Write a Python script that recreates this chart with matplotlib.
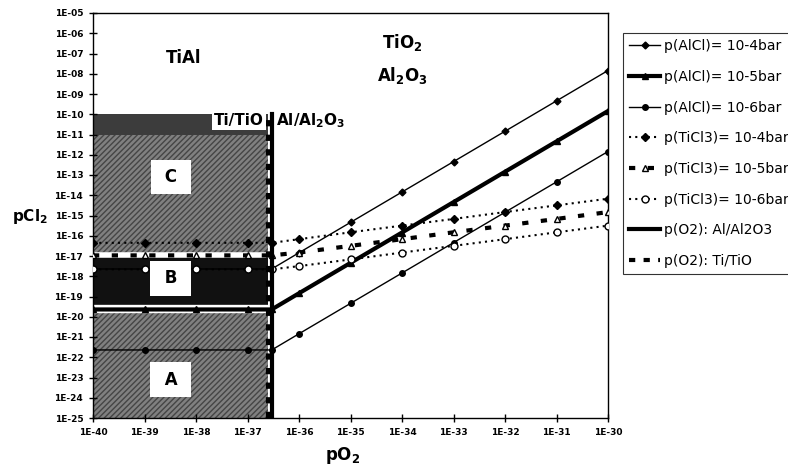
import numpy as np
import matplotlib
matplotlib.use('Agg')
import matplotlib.pyplot as plt
from matplotlib.ticker import FixedLocator, FuncFormatter, NullLocator

# pO2 grid (bar); the 5th point is the Al/Al2O3 equilibrium pO2
po2 = [1e-40, 1e-39, 1e-38, 1e-37, 2.95e-37,
       1e-36, 1e-35, 1e-34, 1e-33, 1e-32, 1e-31, 1e-30]
po2_al_al2o3 = 2.95e-37
po2_ti_tio = 2.5e-37

# log10(pCl2)
alcl_4 = [-17.64, -17.64, -17.64, -17.64, -17.64, -16.84, -15.34, -13.84, -12.34, -10.84, -9.34, -7.84]
alcl_5 = [-19.64, -19.64, -19.64, -19.64, -19.64, -18.84, -17.34, -15.84, -14.34, -12.84, -11.34, -9.84]
alcl_6 = [-21.64, -21.64, -21.64, -21.64, -21.64, -20.84, -19.34, -17.84, -16.34, -14.84, -13.34, -11.84]
ticl3_4 = [-16.35, -16.35, -16.35, -16.35, -16.35, -16.17, -15.83, -15.50, -15.17, -14.83, -14.50, -14.17]
ticl3_5 = [-16.97, -16.97, -16.97, -16.97, -16.97, -16.83, -16.50, -16.17, -15.83, -15.50, -15.17, -14.83]
ticl3_6 = [-17.66, -17.66, -17.66, -17.66, -17.66, -17.50, -17.17, -16.83, -16.50, -16.17, -15.83, -15.50]

# region boundaries (pCl2)
region_top = 1e-10
region_b = [1.1e-17, 3.2e-20]
xticks = [10.0 ** e for e in range(-40, -29)]
yticks = [10.0 ** e for e in range(-25, -4)]

plt.rcParams['font.family'] = ['DejaVu Sans']
plt.rcParams['mathtext.default'] = 'bf'

fig = plt.figure(figsize=(7.88, 4.71), dpi=100)
ax = fig.add_axes([93 / 788, 1 - 418 / 471, 515 / 788, 405 / 471])
ax.set_xscale('log')
ax.set_yscale('log')
ax.set_xlim(1e-40, 1e-30)
ax.set_ylim(1e-25, 1e-5)

# shaded stability regions
ax.fill_between([1e-40, po2_ti_tio], 1e-25, region_top, color='#808080',
                hatch='//////', edgecolor='#454545', linewidth=0, zorder=0)
ax.fill_between([1e-40, po2_ti_tio], 1e-11, region_top, color='#3c3c3c', linewidth=0, zorder=0)
ax.fill_between([1e-40, po2_ti_tio], region_b[1], region_b[0], color='#111111', linewidth=0, zorder=0)

x = np.array(po2)
def p(v):
    return 10.0 ** np.array(v)

# white bands under the lines crossing the dark region
ax.plot(x[:5], p(ticl3_5)[:5], color='white', lw=4, zorder=1)
ax.plot(x[:5], p(alcl_5)[:5], color='white', lw=6, zorder=1)

l1, = ax.plot(x, p(alcl_4), color='black', lw=1, marker='D', ms=3.5, zorder=3)
l2, = ax.plot(x, p(alcl_5), color='black', lw=3, marker='^', ms=4.5, zorder=3)
l3, = ax.plot(x, p(alcl_6), color='black', lw=1, marker='o', ms=4, zorder=3)
l4, = ax.plot(x, p(ticl3_4), color='black', lw=1.5, ls=(0, (1, 2)), marker='D', ms=4,
              mfc='black', zorder=3)
l5, = ax.plot(x, p(ticl3_5), color='black', lw=3, ls=(0, (1.5, 3)), marker='^', ms=5,
              mfc='white', zorder=3)
l6, = ax.plot(x, p(ticl3_6), color='black', lw=1.5, ls=(0, (1, 2)), marker='o', ms=5,
              mfc='white', zorder=3)
l7, = ax.plot([po2_al_al2o3, po2_al_al2o3], [1e-25, region_top], color='black', lw=3, zorder=4)
l8, = ax.plot([po2_ti_tio, po2_ti_tio], [1e-25, region_top], color='black', lw=3,
              ls=(0, (1.5, 2)), zorder=4)

# region labels
ax.text(10 ** -38.25, 10 ** -7.2, 'TiAl', fontsize=12, fontweight='bold', ha='center', va='center')
ax.text(10 ** -34.0, 10 ** -6.45, 'TiO$_2$', fontsize=12, fontweight='bold', ha='center', va='center')
ax.text(10 ** -34.0, 10 ** -8.1, 'Al$_2$O$_3$', fontsize=12, fontweight='bold', ha='center', va='center')
ax.text(10 ** -37.17, 10 ** -10.3, 'Ti/TiO', fontsize=11, fontweight='bold', ha='center', va='center',
        bbox=dict(boxstyle='square,pad=0.15', fc='white', ec='none'), zorder=5)
ax.text(10 ** -36.45, 10 ** -10.3, 'Al/Al$_2$O$_3$', fontsize=11, fontweight='bold', ha='left', va='center',
        zorder=5)
for lab, yv in [('C', -13.1), ('B', -18.1), ('A', -23.1)]:
    ax.text(10 ** -38.49, 10 ** yv, ' ' + lab + ' ', fontsize=12, fontweight='bold', ha='center',
            va='center', bbox=dict(boxstyle='square,pad=0.5', fc='white', ec='none'), zorder=5)

ax.xaxis.set_major_locator(FixedLocator(xticks))
ax.yaxis.set_major_locator(FixedLocator(yticks))
ax.xaxis.set_minor_locator(NullLocator())
ax.yaxis.set_minor_locator(NullLocator())
fmt = FuncFormatter(lambda v, pos: '1E-%02d' % round(-np.log10(v)))
ax.xaxis.set_major_formatter(fmt)
ax.yaxis.set_major_formatter(fmt)
ax.tick_params(direction='inout', length=6, width=1, labelsize=6.5, pad=4)
for t in ax.get_xticklabels() + ax.get_yticklabels():
    t.set_fontweight('bold')
for s in ax.spines.values():
    s.set_linewidth(1)

fig.text(30 / 788, 1 - 216 / 471, 'pCl$_2$', fontsize=11, fontweight='bold', ha='center', va='center')
fig.text(343 / 788, 1 - 455 / 471, 'pO$_2$', fontsize=12, fontweight='bold', ha='center', va='center')

labels = ['p(AlCl)= 10-4bar', 'p(AlCl)= 10-5bar', 'p(AlCl)= 10-6bar',
          'p(TiCl3)= 10-4bar', 'p(TiCl3)= 10-5bar', 'p(TiCl3)= 10-6bar',
          'p(O2): Al/Al2O3', 'p(O2): Ti/TiO']
leg = fig.legend([l1, l2, l3, l4, l5, l6, l7, l8], labels, loc='upper left',
                 bbox_to_anchor=(623 / 788, 1 - 33 / 471), fontsize=10, frameon=True,
                 fancybox=False, edgecolor='black', labelspacing=1.2, handlelength=2.2,
                 handletextpad=0.3, borderpad=0.45, borderaxespad=0)
leg.get_frame().set_linewidth(0.8)

fig.savefig('out.png', dpi=100)
